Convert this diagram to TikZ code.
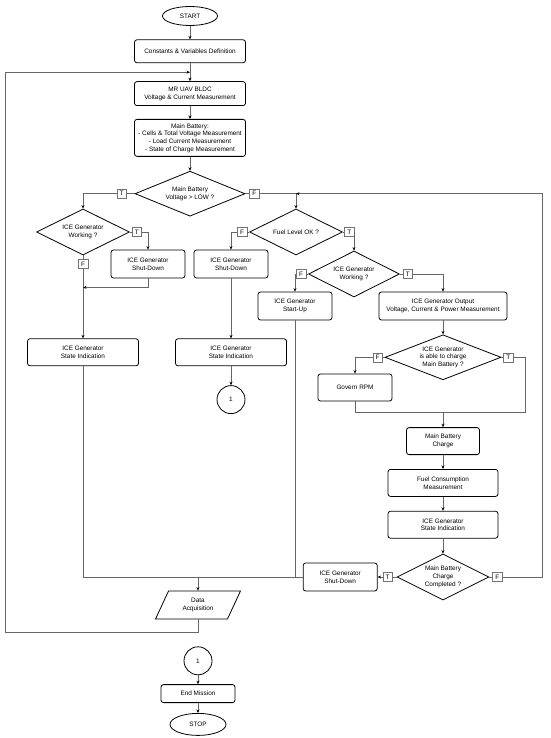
\documentclass[tikz,border=0pt]{standalone}
\usepackage{fontspec}
\setmainfont{Liberation Sans}
\usepackage{tikz}
\usetikzlibrary{positioning}
\usetikzlibrary{arrows}
\usetikzlibrary{arrows.meta}
\usetikzlibrary{shapes,calc}
\tikzset{every node/.append style={font=\fontsize{6.4}{7.7}\selectfont},
  term node/.style={ellipse,draw,line width=0.8pt,minimum width=55pt,minimum height=19pt,inner sep=0pt},
  proc node/.style={rectangle,rounded corners=2.5pt,draw,line width=0.8pt,align=center,minimum width=111pt,minimum height=27pt,inner sep=1pt},
  dec node/.style={diamond,draw,line width=0.8pt,align=center,aspect=2.5,inner sep=0pt,minimum width=93pt,minimum height=46pt},
  tf node/.style={rectangle,draw=black!55,fill=white,line width=0.5pt,minimum width=9.5pt,minimum height=9pt,inner sep=0pt},
  io node/.style={trapezium,trapezium left angle=63,trapezium right angle=117,trapezium stretches=true,draw,line width=0.8pt,align=center,minimum width=85pt,minimum height=28pt,inner sep=0pt},
  conn node/.style={circle,draw,line width=0.8pt,minimum size=28pt,inner sep=0pt},
  wire/.style={draw=black!60,line width=0.6pt},
}

\begin{document}
\begin{tikzpicture}[x=1pt, y=1pt, >={Stealth[length=3.5pt,width=3pt,color=black]}]
	\useasboundingbox (0,0) rectangle (550,-738);

	% main column
	\node[term node] (start) at (190,-16) {START};
	\node[proc node, minimum height=23pt] (cvd) [below = 13.5pt of start] {Constants \& Variables Definition};
	\node[proc node, minimum height=24pt] (bldc) [below = 18pt of cvd] {MR UAV BLDC\\Voltage \& Current Measurement};
	\node[proc node, minimum height=37pt] (batt) [below = 13pt of bldc] {Main Battery:\\- Cells \& Total Voltage Measurement\\- Load Current Measurement\\- State of Charge Measurement};
	\node[dec node, minimum width=110pt, minimum height=45pt] (dbatt) [below = 14pt of batt] {Main Battery\\Voltage > LOW ?};

	% voltage ok branch
	\node[dec node] (dwork1) at (83,-232) {ICE Generator\\Working ?};
	\node[proc node, minimum width=74pt, minimum height=28pt] (shut1) at (148,-264) {ICE Generator\\Shut-Down};
	\node[proc node] (state1) [below = 83pt of dwork1] {ICE Generator\\State Indication};

	% voltage low branch
	\node[dec node] (dfuel) at (296,-232) {Fuel Level OK ?};
	\node[proc node, minimum width=74pt, minimum height=28pt] (shut2) at (231,-264) {ICE Generator\\Shut-Down};
	\node[proc node] (state2) [below = 60pt of shut2] {ICE Generator\\State Indication};
	\node[conn node] (conn1) [below = 19pt of state2] {1};
	\node[dec node, minimum width=91pt] (dwork2) at (354,-274) {ICE Generator\\Working ?};
	\node[proc node, minimum width=74pt, minimum height=28pt] (startup) at (295,-306) {ICE Generator\\Start-Up};
	\node[proc node, minimum width=128pt, minimum height=28pt] (output) at (443,-306) {ICE Generator Output\\Voltage, Current \& Power Measurement};
	\node[dec node, minimum width=116pt, minimum height=45pt] (dable) [below = 14pt of output] {ICE Generator\\is able to charge\\Main Battery ?};
	\node[proc node, minimum width=74pt] (govern) at (355,-387.5) {Govern RPM};
	\node[proc node, minimum width=73pt] (charge) [below = 47pt of dable] {Main Battery\\Charge};
	\node[proc node, minimum width=110pt] (fuelc) [below = 14pt of charge] {Fuel Consumption\\Measurement};
	\node[proc node, minimum width=110pt] (state3) [below = 14pt of fuelc] {ICE Generator\\State Indication};
	\node[dec node, minimum width=92pt] (ddone) [below = 15pt of state3] {Main Battery\\Charge\\Completed ?};
	\node[proc node, minimum width=74pt, minimum height=28pt] (shut3) [left = 19pt of ddone] {ICE Generator\\Shut-Down};

	% end of the cycle
	\node[io node] (data) at (198,-605) {Data\\Acquisition};
	\node[conn node] (conn2) [below = 27pt of data] {1};
	\node[proc node, minimum width=74pt, minimum height=18pt] (endm) [below = 9pt of conn2] {End Mission};
	\node[term node, minimum width=56pt, minimum height=22pt] (stop) [below = 10pt of endm] {STOP};

	% true / false tags
	\node[tf node] (tb1) [left = 8pt of dbatt] {T};
	\node[tf node] (fb1) [right = 4pt of dbatt] {F};
	\node[tf node] (tw1) [right = 2pt of dwork1] {T};
	\node[tf node] (fw1) [below = 4pt of dwork1] {F};
	\node[tf node] (ff) [left = 2pt of dfuel] {F};
	\node[tf node] (tfu) [right = 1.5pt of dfuel] {T};
	\node[tf node] (fw2) [left = 2pt of dwork2] {F};
	\node[tf node] (tw2) [right = 3pt of dwork2] {T};
	\node[tf node] (fa) [left = 2pt of dable] {F};
	\node[tf node] (ta) [right = 2pt of dable] {T};
	\node[tf node] (td) [left = 4pt of ddone] {T};
	\node[tf node] (fd) [right = 3pt of ddone] {F};

	\coordinate (m1) at ($(shut1.south)+(0,-9)$);
	\coordinate (m2) at ($(charge.north)+(0,15)$);
	\coordinate (m3) at (state1 |- shut3);
	\coordinate (m4) at ($(cvd.south)!0.5!(bldc.north)$);
	\coordinate (lft) at ($(m4)+(-185,0)$);
	\coordinate (rgt) at ($(fd.east)+(40,0)$);
	\coordinate (jf) at (dfuel.north |- dbatt);

	\path[wire,->]
	(start) edge (cvd)
	(cvd) edge (bldc)
	(bldc) edge (batt)
	(batt) edge (dbatt)
	(fw1) edge (state1)
	(shut2) edge (state2)
	(state2) edge (conn1)
	(output) edge (dable)
	(charge) edge (fuelc)
	(fuelc) edge (state3)
	(state3) edge (ddone)
	(td) edge (shut3)
	(conn2) edge (endm)
	(endm) edge (stop);

	\path[wire]
	(dbatt) edge (tb1)
	(dbatt) edge (fb1)
	(dwork1) edge (tw1)
	(dwork1) edge (fw1)
	(dfuel) edge (ff)
	(dfuel) edge (tfu)
	(dwork2) edge (fw2)
	(dwork2) edge (tw2)
	(dable) edge (fa)
	(dable) edge (ta)
	(ddone) edge (td)
	(ddone) edge (fd);

	\draw[wire,->] (tb1) -| (dwork1);
	\draw[wire,->] (fb1) -| (dfuel);
	\draw[wire,->] (tw1) -| (shut1);
	\draw[wire,->] (shut1) -- (m1) -- (m1 -| fw1);
	\draw[wire,->] (ff) -| (shut2);
	\draw[wire,->] (tfu) -| (dwork2);
	\draw[wire,->] (fw2) -| (startup);
	\draw[wire,->] (tw2) -| (output);
	\draw[wire,->] (fa) -| (govern);
	\draw[wire] (govern) |- (m2);
	\draw[wire] (ta) -- ++(17,0) |- (m2);
	\draw[wire,->] (m2) -- (charge);
	\draw[wire,->] (fd) -- (rgt) |- (jf);
	\draw[wire] (state1) -- (m3) -- (shut3);
	\draw[wire] (startup) -- (startup |- shut3);
	\draw[wire,->] (data |- shut3) -- (data);
	\draw[wire,->] (data.south) -- ++(0,-13) -| (lft) -- (m4);
\end{tikzpicture}
\end{document}
